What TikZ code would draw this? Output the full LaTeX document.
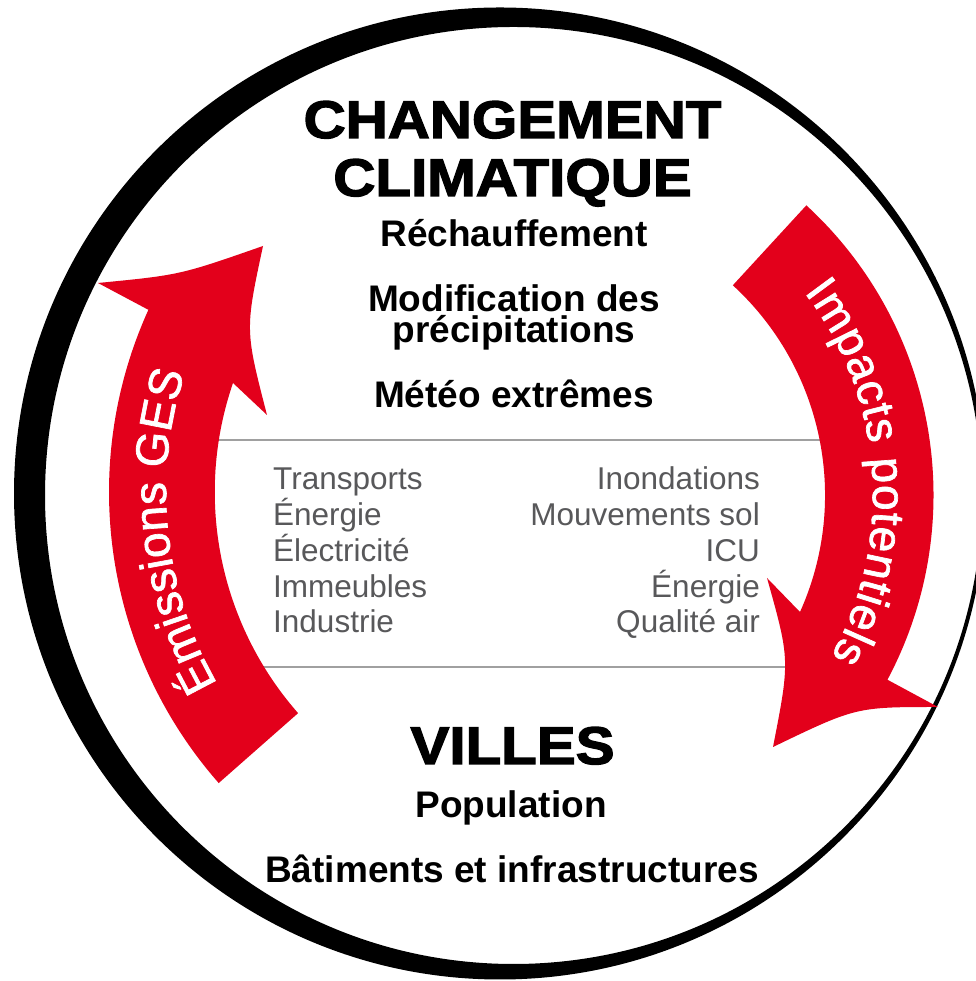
\documentclass[tikz,border=0pt]{standalone}
\usepackage{fontspec}
\setmainfont{Liberation Sans}
\newfontfamily\heavyfont[FakeStretch=1.1,FakeBold=2.5]{Liberation Sans Bold}
\newfontfamily\arrowfam[FakeBold=1.5]{Liberation Sans}
\usetikzlibrary{decorations.text}
\definecolor{arrowred}{RGB}{227,0,27}
\definecolor{itemgray}{RGB}{88,88,90}
\definecolor{rulegray}{RGB}{160,160,160}
\newcommand\arrowtextfont{\arrowfam\fontsize{46}{46}\selectfont}
\tikzset{
  titletext/.style={font=\heavyfont\fontsize{53}{53}\selectfont, anchor=base, inner sep=0pt},
  subtext/.style={font=\bfseries\fontsize{37}{37}\selectfont, anchor=base, inner sep=0pt},
  itemtext/.style={font=\fontsize{31.5}{31.5}\selectfont, text=itemgray, inner sep=0pt},
  rule/.style={draw=rulegray, line width=2pt},
  bigarrow/.style={fill=arrowred},
}
\begin{document}
\begin{tikzpicture}[x=1pt,y=1pt]
\useasboundingbox (0,0) rectangle (975,981);
\fill[white] (0,0) rectangle (975,981);
% crescent ring
\fill[black, even odd rule] (500,487.5) circle[radius=486] (513.5,485.5) circle[radius=468.5];
% rules
\coordinate (r1a) at (180,540.5);
\coordinate (r1b) at (850,540.5);
\coordinate (r2a) at (200,313.5);
\coordinate (r2b) at (790,313.5);
\draw[rule] (r1a) -- (r1b);
\draw[rule] (r2a) -- (r2b);
% left arrow
\coordinate (L) at (550,489);
\fill[bigarrow] ([shift={(L)}]221.3:441) arc[start angle=221.3, end angle=155.6, radius=441]
  -- (98,698) .. controls (180,706) .. (263,735)
  .. controls (245,651) .. (267,566)
  -- (233,598) arc[start angle=161, end angle=221.3, radius=335] -- cycle;
% right arrow
\coordinate (Rc) at (540,486);
\fill[bigarrow] ([shift={(Rc)}]47.4:285) -- ([shift={(Rc)}]47.4:393.5)
  arc[start angle=47.4, end angle=-28, radius=393.5]
  -- (938,274) .. controls (856,274) .. (773,234)
  .. controls (790,321) .. (767,403)
  -- (800,369) arc[start angle=-24.2, end angle=47.4, radius=285] -- cycle;
% arrow texts
\path[decorate, decoration={text along path, text align={fit to path}, text format delimiters={|}{|},
  text={|\color{white}\arrowtextfont|Émissions GES}}]
  ([shift={(L)}]210:384) arc[start angle=210, end angle=162, radius=384];
\path[decorate, decoration={text along path, text align={fit to path}, text format delimiters={|}{|},
  text={|\color{white}\arrowtextfont|Impacts potentiels}}]
  ([shift={(Rc)}]37.5:333) arc[start angle=37.5, end angle=-29, radius=333];
% titles
\node[titletext] (t1) at (512.5,843) {CHANGEMENT};
\node[titletext] (t2) at (512.5,785) {CLIMATIQUE};
\node[subtext] (s1) at (514,734) {Réchauffement};
\node[subtext] (s2) at (514,669) {Modification des};
\node[subtext] (s3) at (514,638) {précipitations};
\node[subtext] (s4) at (514,573) {Météo extrêmes};
% items
\node[itemtext, anchor=base west] (l1) at (273,491) {Transports};
\node[itemtext, anchor=base west] (l2) at (273,455) {Énergie};
\node[itemtext, anchor=base west] (l3) at (273,419.5) {Électricité};
\node[itemtext, anchor=base west] (l4) at (273,383.5) {Immeubles};
\node[itemtext, anchor=base west] (l5) at (273,348) {Industrie};
\node[itemtext, anchor=base east] (q1) at (760,491) {Inondations};
\node[itemtext, anchor=base east] (q2) at (760,455) {Mouvements sol};
\node[itemtext, anchor=base east] (q3) at (760,419.5) {ICU};
\node[itemtext, anchor=base east] (q4) at (760,383.5) {Énergie};
\node[itemtext, anchor=base east] (q5) at (760,348) {Qualité air};
% villes
\node[titletext] (v) at (512.5,217) {VILLES};
\node[subtext] (p) at (511,163) {Population};
\node[subtext] (b) at (512,98) {Bâtiments et infrastructures};
\end{tikzpicture}
\end{document}
